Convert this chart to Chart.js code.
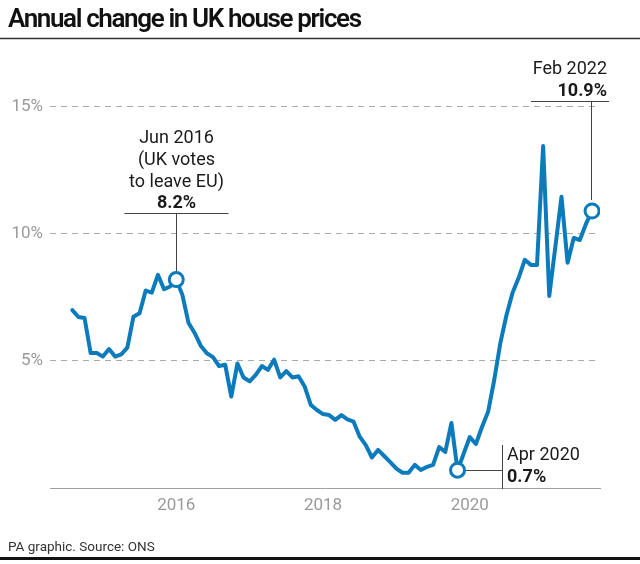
<!DOCTYPE html>
<html><head><meta charset="utf-8">
<style>html,body{margin:0;padding:0;background:#fff}canvas{display:block}</style>
<script src="https://cdn.jsdelivr.net/npm/chart.js@4.4.1/dist/chart.umd.min.js"></script>
</head><body>
<canvas id="c" width="640" height="564"></canvas>
<script>
const TITLE = 'Annual change in UK house prices';
const SOURCE = 'PA graphic. Source: ONS';
const MONTH_NAMES = ['Jan','Feb','Mar','Apr','May','Jun','Jul','Aug','Sep','Oct','Nov','Dec'];
const FIRST_YEAR = 2015;
// Monthly annual change (%), Jan 2015 – Feb 2022
const VALUES = [
  7.0, 6.73, 6.69, 5.31, 5.31, 5.17, 5.47, 5.17, 5.26, 5.52, 6.74, 6.88,
  7.77, 7.69, 8.39, 7.82, 7.93, 8.2, 7.6, 6.5, 6.1, 5.6, 5.3, 5.15,
  4.8, 4.85, 3.6, 4.9, 4.35, 4.2, 4.45, 4.8, 4.65, 5.05, 4.35, 4.6,
  4.35, 4.4, 3.99, 3.27, 3.07, 2.91, 2.87, 2.68, 2.87, 2.7, 2.61, 2.02,
  1.69, 1.2, 1.5, 1.26, 1.02, 0.76, 0.6, 0.6, 0.91, 0.71, 0.83, 0.91,
  1.61, 1.42, 2.56, 0.7, 1.35, 2.0, 1.73, 2.4, 3.0, 4.25, 5.7, 6.8,
  7.68, 8.27, 8.98, 8.78, 8.78, 13.46, 7.56, 9.49, 11.46, 8.86, 9.84, 9.76,
  10.39, 10.9
];
const MONTHS = VALUES.map((_, i) => MONTH_NAMES[i % 12] + ' ' + (FIRST_YEAR + Math.floor(i / 12)));
const Y_TICKS = [0, 5, 10, 15];
const X_TICK_MONTHS = ['Jun 2016', 'Jun 2018', 'Jun 2020'];
const X_TICK_LABELS = ['2016', '2018', '2020'];
const NOTES = [
  {month: 'Jun 2016', lines: ['Jun 2016', '(UK votes', 'to leave EU)'], value: '8.2%'},
  {month: 'Apr 2020', lines: ['Apr 2020'], value: '0.7%'},
  {month: 'Feb 2022', lines: ['Feb 2022'], value: '10.9%'}
];
const HIGHLIGHT = NOTES.map(n => MONTHS.indexOf(n.month));

const BLUE = '#0c7bbc';
const FONT = 'Roboto, "Liberation Sans", sans-serif';

function seg(ctx, x1, y1, x2, y2) { ctx.beginPath(); ctx.moveTo(x1, y1); ctx.lineTo(x2, y2); ctx.stroke(); }

const deco = {
  id: 'deco',
  beforeDatasetsDraw(chart) {
    const ctx = chart.ctx, xs = chart.scales.x, ys = chart.scales.y;
    ctx.save();
    ctx.strokeStyle = '#444'; ctx.lineWidth = 1;
    ctx.fillStyle = '#1a1a1a';
    // Jun 2016
    {
      const n = NOTES[0], i = HIGHLIGHT[0];
      const px = Math.round(xs.getPixelForValue(i)) + 0.5, py = ys.getPixelForValue(VALUES[i]);
      ctx.textAlign = 'center'; ctx.textBaseline = 'middle';
      ctx.font = '18px ' + FONT;
      n.lines.forEach((t, k) => ctx.fillText(t, px, 138 + k * 22));
      ctx.font = 'bold 18px ' + FONT;
      ctx.fillText(n.value, px, 203);
      seg(ctx, px - 52, 213.5, px + 52, 213.5);
      seg(ctx, px, 213.5, px, py - 8);
    }
    // Apr 2020
    {
      const n = NOTES[1], i = HIGHLIGHT[1];
      const px = xs.getPixelForValue(i), py = Math.round(ys.getPixelForValue(VALUES[i])) + 0.5;
      seg(ctx, px + 8, py, 502.5, py);
      seg(ctx, 502.5, 445, 502.5, 489);
      ctx.textAlign = 'left'; ctx.textBaseline = 'middle';
      ctx.font = '18px ' + FONT;
      ctx.fillText(n.lines[0], 507, 455);
      ctx.font = 'bold 18px ' + FONT;
      ctx.fillText(n.value, 507, 477);
    }
    // Feb 2022
    {
      const n = NOTES[2], i = HIGHLIGHT[2];
      const px = Math.round(xs.getPixelForValue(i)) - 0.5, py = ys.getPixelForValue(VALUES[i]);
      ctx.textAlign = 'right'; ctx.textBaseline = 'middle';
      ctx.font = '18px ' + FONT;
      ctx.fillText(n.lines[0], 607, 69);
      ctx.font = 'bold 18px ' + FONT;
      ctx.fillText(n.value, 607, 91);
      seg(ctx, 531, 101.5, 609, 101.5);
      seg(ctx, px, 101.5, px, py - 11);
    }
    ctx.restore();
  },
  afterDraw(chart) {
    const ctx = chart.ctx;
    ctx.save();
    ctx.fillStyle = '#111';
    ctx.textAlign = 'left'; ctx.textBaseline = 'alphabetic';
    ctx.font = '600 26px ' + FONT;
    // tighten tracking so the title spans the same width as the original
    const natural = ctx.measureText(TITLE).width;
    const target = 354;
    if ('letterSpacing' in ctx) ctx.letterSpacing = ((target - natural) / (TITLE.length - 1)).toFixed(2) + 'px';
    ctx.fillText(TITLE, 8, 27);
    if ('letterSpacing' in ctx) ctx.letterSpacing = '0px';
    ctx.strokeStyle = '#333'; ctx.lineWidth = 1.5;
    seg(ctx, 0, 38.5, 640, 38.5);
    ctx.font = '13.5px ' + FONT;
    ctx.fillStyle = '#333';
    ctx.textBaseline = 'middle';
    ctx.fillText(SOURCE, 8, 548);
    ctx.fillStyle = '#111';
    ctx.fillRect(0, 557, 640, 3);
    ctx.restore();
  }
};

new Chart(document.getElementById('c'), {
  type: 'line',
  data: {
    datasets: [{
      data: VALUES.map((v, i) => ({x: i, y: v})),
      borderColor: BLUE,
      borderWidth: 4,
      borderJoinStyle: 'round',
      borderCapStyle: 'round',
      tension: 0,
      fill: false,
      pointRadius: c => HIGHLIGHT.includes(c.dataIndex) ? 7 : 0,
      pointHoverRadius: c => HIGHLIGHT.includes(c.dataIndex) ? 7 : 0,
      pointBackgroundColor: '#fff',
      pointBorderColor: BLUE,
      pointBorderWidth: 3
    }]
  },
  options: {
    responsive: false,
    animation: false,
    devicePixelRatio: 1,
    events: [],
    layout: {padding: {top: 56, right: 40, bottom: 46, left: 0}},
    plugins: {legend: {display: false}, tooltip: {enabled: false}, title: {display: false}},
    scales: {
      x: {
        type: 'linear', min: -3.65, max: 86.3,
        afterBuildTicks: s => { s.ticks = X_TICK_MONTHS.map(m => ({value: MONTHS.indexOf(m)})); },
        afterFit: s => { s.height = 30; },
        grid: {display: true, color: 'rgba(0,0,0,0)', drawTicks: false},
        border: {display: true, color: '#a0a0a0', width: 1},
        ticks: {
          callback: (v, idx) => X_TICK_LABELS[idx],
          color: '#9a9a9a', font: {size: 17, family: FONT}, padding: 8,
          maxRotation: 0, autoSkip: false
        }
      },
      y: {
        min: 0, max: 17,
        afterBuildTicks: s => { s.ticks = Y_TICKS.map(v => ({value: v})); },
        afterFit: s => { s.width = 50; },
        border: {display: false, dash: [6, 5]},
        grid: {color: c => (c.tick && c.tick.value === 0) ? 'rgba(0,0,0,0)' : '#aaaaaa', lineWidth: 1, drawTicks: false},
        ticks: {
          callback: v => v === 0 ? '' : v + '%',
          color: '#9a9a9a', font: {size: 17, family: FONT}, padding: 7
        }
      }
    }
  },
  plugins: [deco]
});
</script>
</body></html>
